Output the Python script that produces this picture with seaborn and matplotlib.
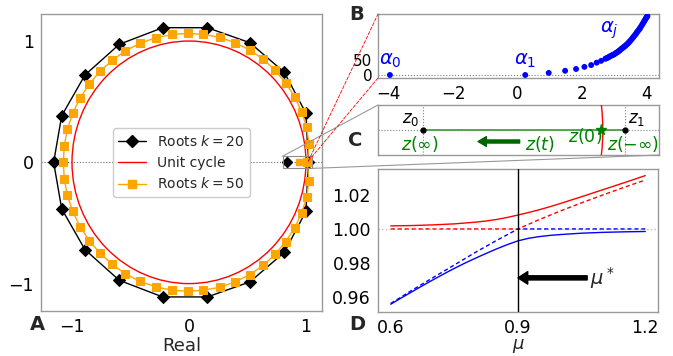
import matplotlib
matplotlib.use("Agg")
import matplotlib.pyplot as plt
import seaborn as sns
import pandas as pd
from matplotlib.patches import Circle, Rectangle, ConnectionPatch
from matplotlib.lines import Line2D

sns.set_theme(style="white")
plt.rcParams["font.family"] = ["DejaVu Sans"]
plt.rcParams["mathtext.fontset"] = "dejavusans"

# ---------------- Panel A data (roots, polygon order, closed) ----------------
k20_re = [1.02, 1.0, 0.815, 0.521, 0.157, -0.225, -0.596, -0.889, -1.088, -1.157,
          -1.088, -0.889, -0.596, -0.225, 0.157, 0.521, 0.815, 1.0, 1.02]
k20_im = [0.0, 0.404, 0.742, 0.986, 1.11, 1.11, 0.973, 0.72, 0.384, 0.0,
          -0.384, -0.72, -0.973, -1.11, -1.11, -0.986, -0.742, -0.404, 0.0]
k50_re = [1.01, 1.026, 1.006, 0.963, 0.903, 0.826, 0.738, 0.635, 0.521, 0.393, 0.265, 0.122,
          -0.011, -0.142, -0.285, -0.419, -0.547, -0.655, -0.761, -0.852, -0.932, -0.994,
          -1.040, -1.066, -1.074,
          -1.066, -1.040, -0.994, -0.932, -0.852, -0.761, -0.655, -0.547, -0.419, -0.285,
          -0.142, -0.011, 0.122, 0.265, 0.393, 0.521, 0.635, 0.738, 0.826, 0.903, 0.963,
          1.006, 1.026, 1.01]
k50_im = [0.0, 0.151, 0.288, 0.417, 0.541, 0.654, 0.758, 0.849, 0.926, 0.986, 1.030, 1.055,
          1.063, 1.055, 1.027, 0.981, 0.918, 0.841, 0.750, 0.646, 0.530, 0.404,
          0.272, 0.137, 0.0,
          -0.137, -0.272, -0.404, -0.530, -0.646, -0.750, -0.841, -0.918, -0.981, -1.027,
          -1.055, -1.063, -1.055, -1.030, -0.986, -0.926, -0.849, -0.758, -0.654, -0.541, -0.417,
          -0.288, -0.151, 0.0]
z0_k20 = 0.84
z0_k50 = 0.94

# ---------------- Panel B data ----------------
alpha_x = [-3.97, 0.24, 0.97, 1.48, 1.82, 2.08, 2.29, 2.46, 2.60, 2.73,
           2.76, 2.79, 2.83, 2.86, 2.89, 2.93, 2.96, 2.99, 3.02, 3.06, 3.09, 3.12, 3.15,
           3.18, 3.21, 3.24, 3.27, 3.30, 3.33, 3.36, 3.39, 3.42, 3.45, 3.48, 3.51, 3.54,
           3.57, 3.60, 3.63, 3.66, 3.69, 3.71, 3.74, 3.77, 3.80, 3.82, 3.85, 3.88, 3.90,
           3.93, 3.95, 3.98, 4.00, 4.02, 4.04]
alpha_y = [0, 0, 7, 14, 20, 27, 33, 41, 47, 54,
           55.5, 57, 59, 61, 63, 65, 66.5, 68, 70, 73, 75, 77, 80,
           82, 85, 88, 90, 93, 95, 98, 101, 104, 107, 111, 114, 118,
           122, 126, 130, 134, 138, 142, 146, 150, 154, 158, 163, 168, 172,
           177, 181, 186, 190, 193, 196]

# ---------------- Panel C data ----------------
z0 = 0.84
z1 = 1.02
z_start = 0.998

# ---------------- Panel D data ----------------
mu_fine = [0.600, 0.625, 0.650, 0.675, 0.700, 0.725, 0.750, 0.775, 0.800, 0.825, 0.850,
           0.875, 0.900, 0.925, 0.950, 0.975, 1.000, 1.050, 1.100, 1.150, 1.200]
red_solid = [1.0018, 1.0019, 1.0020, 1.0022, 1.0024, 1.0027, 1.0030, 1.0035, 1.0040,
             1.0047, 1.0056, 1.0068, 1.0082, 1.0097, 1.0113, 1.0131, 1.0150,
             1.0190, 1.0231, 1.0272, 1.0314]
blue_solid = [0.9557, 0.9594, 0.9630, 0.9666, 0.9701, 0.9735, 0.9768, 0.9799, 0.9828,
              0.9856, 0.9883, 0.9908, 0.9930, 0.9945, 0.9955, 0.9962, 0.9967,
              0.9975, 0.9980, 0.9983, 0.9985]
mu = [0.60, 0.65, 0.70, 0.75, 0.80, 0.85, 0.90, 0.95, 1.00, 1.05, 1.10, 1.15, 1.20]
red_dashed = [1.0, 1.0, 1.0, 1.0, 1.0, 1.0, 1.0, 1.0055, 1.0106, 1.0154, 1.0200, 1.0245, 1.0288]
blue_dashed = [0.9561, 0.9639, 0.9714, 0.9788, 0.9863, 0.9933, 1.0, 1.0, 1.0, 1.0, 1.0, 1.0, 1.0]
mu_star = 0.9

EDGE = "0.6"
W, H = 673, 356


def rect(x0, y0, x1, y1):
    return [x0 / W, 1 - y1 / H, (x1 - x0) / W, (y1 - y0) / H]


def style(ax, size=12):
    for s in ax.spines.values():
        s.set_color(EDGE)
        s.set_linewidth(1.0)
    ax.tick_params(colors="black", labelsize=size, length=3, width=0.8, color=EDGE, pad=2)


fig = plt.figure(figsize=(6.73, 3.56), dpi=100)
axA = fig.add_axes(rect(41, 14, 322, 311))
axB = fig.add_axes(rect(378, 14, 659, 78))
axC = fig.add_axes(rect(378, 105, 659, 155))
axD = fig.add_axes(rect(378, 169, 658, 312))

# ---------------- Panel A ----------------
axA.axhline(0, color="0.4", ls=":", lw=0.8, zorder=1)
sns.lineplot(x=k20_re, y=k20_im, sort=False, estimator=None, ax=axA, color="black",
             lw=1.0, marker="D", markersize=6.5, markeredgecolor="black", zorder=3)
axA.add_patch(Circle((0, 0), 1.0, fill=False, ec="red", lw=1.0, zorder=2))
sns.lineplot(x=k50_re, y=k50_im, sort=False, estimator=None, ax=axA, color="orange",
             lw=1.0, marker="s", markersize=6, markeredgecolor="orange", zorder=4)
axA.plot([z0_k20], [0], marker="D", ms=5, color="black", ls="none", zorder=5)
axA.plot([z0_k50], [0], marker="s", ms=5, color="orange", ls="none", zorder=5)
axA.add_patch(Rectangle((0.8, -0.05), 0.25, 0.10, fill=False, ec="0.55", lw=0.8, zorder=6))
axA.set_xlim(-1.265, 1.137)
axA.set_ylim(-1.226, 1.223)
axA.set_xticks([-1, 0, 1])
axA.set_yticks([-1, 0, 1])
axA.set_xticklabels(["\u22121", "0", "1"])
axA.set_yticklabels(["\u22121", "0", "1"])
axA.set_xlabel("Real", fontsize=13, labelpad=1)
style(axA, 12.5)
handles = [
    Line2D([], [], color="black", lw=1.0, marker="D", ms=6.5),
    Line2D([], [], color="red", lw=1.0),
    Line2D([], [], color="orange", lw=1.0, marker="s", ms=6),
]
axA.legend(handles, ["Roots $k=20$", "Unit cycle", "Roots $k=50$"], loc="center",
           fontsize=10, frameon=True, edgecolor="0.8", framealpha=1.0, borderpad=0.4,
           labelspacing=0.5)

# ---------------- Panel B ----------------
axB.axhline(0, color="0.5", ls=":", lw=0.8, zorder=1)
sns.scatterplot(x=alpha_x, y=alpha_y, ax=axB, color="blue", s=18, edgecolor="none", zorder=3)
axB.set_xlim(-4.34, 4.4)
axB.set_ylim(-10, 203)
axB.set_xticks([-4, -2, 0, 2, 4])
axB.set_xticklabels(["\u22124", "\u22122", "0", "2", "4"])
axB.set_yticks([0, 50])
style(axB, 12)
axB.tick_params(axis="y", labelsize=11, pad=1)
axB.text(-3.95, 47, r"$\alpha_0$", color="blue", fontsize=14, ha="center", va="center")
axB.text(0.24, 47, r"$\alpha_1$", color="blue", fontsize=14, ha="center", va="center")
axB.text(2.86, 150, r"$\alpha_j$", color="blue", fontsize=14, ha="center", va="center")

# ---------------- Panel C ----------------
axC.axhline(0, color="0.5", ls=":", lw=0.8, zorder=1)
axC.axvline(z0, color="0.5", ls=":", lw=0.8, zorder=1)
axC.axvline(z1, color="0.5", ls=":", lw=0.8, zorder=1)
sns.lineplot(x=[z0, z1], y=[0, 0], ax=axC, color="#3a9a3a", lw=1.2, zorder=2)
axC.add_patch(Circle((0, 0), 1.0, fill=False, ec="red", lw=1.0, zorder=3))
axC.plot([z0, z1], [0, 0], "o", color="black", ms=3.5, zorder=4)
axC.plot([z_start], [0], "*", color="green", ms=8, zorder=5)
axC.set_xlim(0.8, 1.05)
axC.set_ylim(-0.05, 0.05)
axC.set_xticks([])
axC.set_yticks([])
style(axC)
axC.text(0.829, 0.021, "$z_0$", fontsize=12, ha="center", va="center", color="black")
axC.text(1.030, 0.021, "$z_1$", fontsize=12, ha="center", va="center", color="black")
axC.text(0.837, -0.027, r"$z(\infty)$", fontsize=12.5, ha="center", va="center", color="green")
axC.text(0.931, -0.027, r"$z(t)$", fontsize=12.5, ha="left", va="center", color="green")
axC.text(0.984, -0.013, r"$z(0)$", fontsize=12.5, ha="center", va="center", color="green")
axC.text(1.027, -0.027, r"$z(-\infty)$", fontsize=12.5, ha="center", va="center", color="green")
axC.annotate("", xy=(0.889, -0.023), xytext=(0.926, -0.023),
             arrowprops=dict(facecolor="darkgreen", edgecolor="darkgreen", width=2.2,
                             headwidth=7, headlength=6, shrink=0))

# ---------------- Panel D ----------------
axD.axhline(1.0, color="0.75", ls=":", lw=1.0, zorder=1)
sns.lineplot(x=mu_fine, y=red_solid, ax=axD, color="red", lw=1.0, zorder=3)
sns.lineplot(x=mu_fine, y=blue_solid, ax=axD, color="blue", lw=1.0, zorder=3)
sns.lineplot(x=mu, y=red_dashed, ax=axD, color="red", lw=1.0, ls=(0, (3, 2)), zorder=2)
sns.lineplot(x=mu, y=blue_dashed, ax=axD, color="blue", lw=1.0, ls=(0, (3, 2)), zorder=2)
axD.axvline(mu_star, color="black", lw=1.0, zorder=4)
axD.annotate("", xy=(mu_star, 0.9712), xytext=(1.063, 0.9712),
             arrowprops=dict(facecolor="black", edgecolor="black", width=3,
                             headwidth=9, headlength=7, shrink=0))
axD.text(1.07, 0.9712, r"$\mu^*$", fontsize=14, ha="left", va="center")
axD.set_xlim(0.57, 1.23)
axD.set_ylim(0.9511, 1.0353)
axD.set_xticks([0.6, 0.9, 1.2])
axD.set_yticks([0.96, 0.98, 1.00, 1.02])
axD.set_yticklabels(["0.96", "0.98", "1.00", "1.02"])
axD.set_xlabel(r"$\mu$", fontsize=13, labelpad=0)
axD.set_ylabel("")
style(axD, 12.5)

# ---------------- Connectors ----------------
for xyA, xyB in [((0.8, 0.05), (0, 1)), ((1.05, -0.05), (1, 0))]:
    con = ConnectionPatch(xyA=xyA, coordsA=axA.transData, xyB=xyB, coordsB=axC.transAxes,
                          color="0.6", lw=0.8)
    fig.add_artist(con)
for xyB in [(0, 1), (0, 0)]:
    con = ConnectionPatch(xyA=(1.02, 0.01), coordsA=axA.transData, xyB=xyB,
                          coordsB=axB.transAxes, color="red", lw=0.6, ls=(0, (4, 2)))
    fig.add_artist(con)

# ---------------- Panel letters ----------------
for lab, (px, py) in {"A": (37, 325), "B": (357, 15), "C": (355, 141), "D": (357, 325)}.items():
    fig.text(px / W, 1 - py / H, lab, fontsize=14, fontweight="bold", ha="center", va="center")

fig.savefig("out.png", dpi=100)
